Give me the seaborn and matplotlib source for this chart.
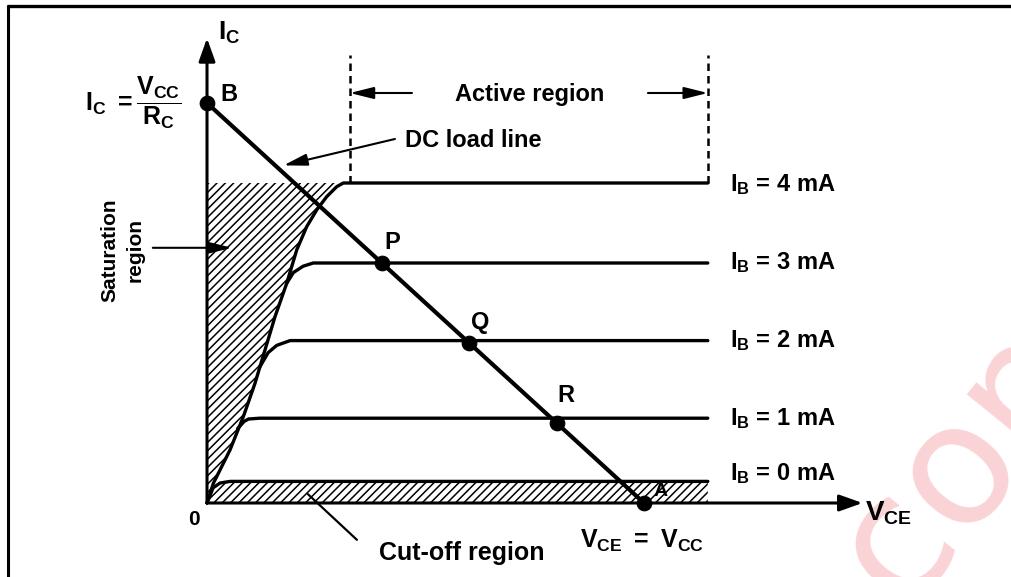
import numpy as np
import pandas as pd
import matplotlib.pyplot as plt
from matplotlib.lines import Line2D
import seaborn as sns

# 出力特性（V_CE [V], I_C 相対値）: 図から読み取った値
vcc = 10.0
ic_sat = 5.0
v_end = 11.46          # 特性曲線の右端
v_axis_end = 15.0
ic_axis_end = 5.81

ib_labels = ['4', '3', '2', '1', '0']
ib_levels = [4.0, 3.0, 2.03, 1.06, 0.27]
ib_label_y = [3.98, 3.0, 2.03, 1.06, 0.37]

# 飽和領域の境界（原点から I_B=4 mA の肩まで）
env_v = [0.0, 0.145, 0.526, 0.831, 1.098, 1.327, 1.556, 1.824, 2.053, 2.281, 2.510, 2.739, 2.968, 3.12]
env_i = [0.0, 0.246, 0.663, 1.079, 1.496, 1.913, 2.329, 2.746, 3.163, 3.454, 3.663, 3.829, 3.954, 4.0]

# 各曲線の肩の部分（境界から離れて水平になるまで）
knee_v = {
    '3': [1.824, 1.975, 2.20, 2.43],
    '2': [1.213, 1.40, 1.595, 1.90],
    '1': [0.70, 0.85, 0.95, 1.21],
    '0': [0.0, 0.14, 0.30, 0.53],
}
knee_i = {
    '3': [2.746, 2.88, 2.96, 3.0],
    '2': [1.705, 1.88, 1.97, 2.03],
    '1': [0.93, 1.02, 1.05, 1.06],
    '0': [0.0, 0.19, 0.25, 0.27],
}

# 動作点
pt_names = ['B', 'P', 'Q', 'R', 'A']
pt_v = [0.0, 4.0, 6.0, 8.0, 10.0]
pt_i = [5.0, 3.0, 2.0, 1.0, 0.0]

active_left = 3.27

rows = []
for lab, lev in zip(ib_labels, ib_levels):
    if lab == '4':
        vs, cs = env_v + [v_end], env_i + [lev]
    else:
        vs, cs = knee_v[lab] + [v_end], knee_i[lab] + [lev]
    for k, (v, c) in enumerate(zip(vs, cs)):
        rows.append({'curve': lab, 'order': k, 'V_CE': v, 'I_C': c})
curves = pd.DataFrame(rows)
load = pd.DataFrame({'V_CE': [0.0, vcc], 'I_C': [ic_sat, 0.0]})
pts = pd.DataFrame({'name': pt_names, 'V_CE': pt_v, 'I_C': pt_i})

sns.set_theme(style='white')
plt.rcParams['font.family'] = ['Liberation Sans', 'DejaVu Sans']
plt.rcParams['text.color'] = 'black'
plt.rcParams['mathtext.fontset'] = 'custom'
plt.rcParams['mathtext.rm'] = 'Liberation Sans:bold'
plt.rcParams['mathtext.it'] = 'Liberation Sans:bold'
plt.rcParams['mathtext.bf'] = 'Liberation Sans:bold'
plt.rcParams['hatch.linewidth'] = 1.1

fig = plt.figure(figsize=(10.11, 5.77), dpi=100)
ax = fig.add_axes([0, 0, 1, 1])
ax.set_xlim(-4.737, 18.398)
ax.set_ylim(-0.925, 6.2875)
ax.axis('off')

# 透かし
ax.text(17.7, 0.8, 'com', fontsize=122, rotation=51, color='#fad3d6',
        ha='center', va='center', family='DejaVu Sans', zorder=0)

# 斜線（飽和領域・遮断領域）
sat_v = [0.0, 0.0] + env_v[::-1]
sat_i = [0.0, 4.0] + env_i[::-1]
ax.fill(sat_v, sat_i, facecolor='none', edgecolor='black', hatch='////', linewidth=0, zorder=1)
cut_v = knee_v['0'] + [v_end]
cut_i = knee_i['0'] + [ib_levels[-1]]
ax.fill_between(cut_v, 0, cut_i, facecolor='none', edgecolor='black', hatch='////', linewidth=0, zorder=1)

# 特性曲線と負荷線
sns.lineplot(data=curves, x='V_CE', y='I_C', units='curve', estimator=None, sort=False,
             color='black', linewidth=2.4, ax=ax, zorder=3)
sns.lineplot(data=load, x='V_CE', y='I_C', color='black', linewidth=3.0, ax=ax, zorder=4)
sns.scatterplot(data=pts, x='V_CE', y='I_C', color='black', s=110, edgecolor='black', ax=ax, zorder=5)
ax.set_xlabel('')
ax.set_ylabel('')

# 座標軸
head = dict(arrowstyle='-|>,head_length=0.7,head_width=0.25', color='black', lw=2.2,
            shrinkA=0, shrinkB=0, mutation_scale=20)
ax.annotate('', xy=(0, ic_axis_end), xytext=(0, 0), arrowprops=head, zorder=4)
ax.annotate('', xy=(v_axis_end, 0), xytext=(0, 0), arrowprops=head, zorder=4)

# 活性領域の破線と矢印
for xv in [active_left, v_end]:
    ax.plot([xv, xv], [4.0, 5.6], color='black', lw=1.8, ls=(0, (3, 2)), zorder=3)
thin = dict(arrowstyle='-|>,head_length=0.8,head_width=0.2', color='black', lw=1.5,
            shrinkA=0, shrinkB=0, mutation_scale=18)
ax.annotate('', xy=(active_left, 5.125), xytext=(4.69, 5.125), arrowprops=thin)
ax.annotate('', xy=(v_end, 5.125), xytext=(10.09, 5.125), arrowprops=thin)
ax.text(7.39, 5.1, 'Active region', fontsize=17, weight='bold', ha='center', va='center')

ax.annotate('', xy=(1.75, 4.22), xytext=(4.30, 4.55), arrowprops=thin)
ax.text(4.53, 4.53, 'DC load line', fontsize=17, weight='bold', ha='left', va='center')

ax.annotate('', xy=(0.57, 3.19), xytext=(-1.24, 3.19), arrowprops=thin, zorder=6)
ax.text(-1.93, 3.16, 'Saturation\nregion', fontsize=15, weight='bold', rotation=90,
        ha='center', va='center', linespacing=1.45)

ax.annotate('', xy=(2.31, 0.11), xytext=(3.43, -0.46),
            arrowprops=dict(arrowstyle='-', color='black', lw=1.6, shrinkA=0, shrinkB=0))
ax.text(5.84, -0.62, 'Cut-off region', fontsize=18, weight='bold', ha='center', va='center')

# 文字
for lab, ly in zip(ib_labels, ib_label_y):
    ax.text(11.97, ly, r'$\mathrm{I_B}$ = ' + lab + ' mA', fontsize=17, weight='bold',
            ha='left', va='center')
ax.text(15.06, -0.13, r'$\mathrm{V_{CE}}$', fontsize=20, ha='left', va='center')
ax.text(0.25, 5.88, r'$\mathrm{I_C}$', fontsize=19, ha='left', va='center')
ax.text(-0.30, -0.21, '0', fontsize=15, weight='bold', ha='center', va='center')
ax.text(-1.68, 5.0, r'$\mathrm{I_C\ = \dfrac{V_{CC}}{R_C}}$', fontsize=18, ha='center', va='center')
ax.text(9.95, -0.47, r'$\mathrm{V_{CE}\ =\ V_{CC}}$', fontsize=18, ha='center', va='center')

lab_off = {'B': (0.5, 0.11), 'P': (0.23, 0.26), 'Q': (0.25, 0.26), 'R': (0.21, 0.34), 'A': (0.37, 0.14)}
for n, v, c in zip(pt_names, pt_v, pt_i):
    dx, dy = lab_off[n]
    ax.text(v + dx, c + dy, n, fontsize=14 if n == 'A' else 17, weight='bold',
            ha='center', va='center', zorder=6)

# 外枠（上と左のみ）
fig.add_artist(Line2D([8 / 1011, 8 / 1011], [0, 1 - 6 / 577], color='black', lw=2.2))
fig.add_artist(Line2D([8 / 1011, 1], [1 - 6 / 577, 1 - 6 / 577], color='black', lw=2.4))

fig.savefig('out.png', dpi=100)
